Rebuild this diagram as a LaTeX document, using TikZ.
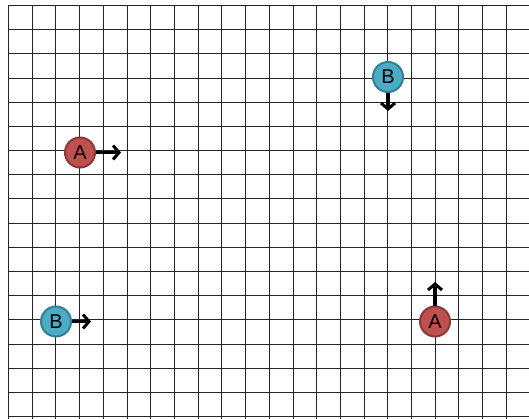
\documentclass[tikz,border=0pt]{standalone}
\usepackage{fontspec}
\setmainfont{Liberation Sans}
\usetikzlibrary{arrows.meta}
\definecolor{redfill}{RGB}{192,80,77}
\definecolor{reddraw}{RGB}{140,56,54}
\definecolor{bluefill}{RGB}{75,172,198}
\definecolor{bluedraw}{RGB}{49,128,150}
\tikzset{
  gridline/.style={draw=black!85, line width=1pt},
  agent/.style={circle, minimum size=30pt, inner sep=0pt, line width=2pt,
    font=\fontsize{20}{20}\selectfont, text=black},
  agentA/.style={agent, fill=redfill, draw=reddraw},
  agentB/.style={agent, fill=bluefill, draw=bluedraw},
  arr/.style={-{Straight Barb[length=6pt,width=14pt,line width=3pt]}, line width=3.4pt, black}
}
\begin{document}
\begin{tikzpicture}[x=1pt,y=-1pt]
\useasboundingbox (0,0) rectangle (529,419);
\fill[white] (0,0) rectangle (529,419);
\begin{scope}
\clip (0,0) rectangle (529,419);
\foreach \i in {0,...,22} {
  \pgfmathsetmacro{\xx}{round(8+23.71*\i)+0.5}
  \draw[gridline] (\xx,5.5) -- (\xx,419);
}
\foreach \j in {0,...,17} {
  \pgfmathsetmacro{\yy}{round(6+24.18*\j)-0.5}
  \draw[gridline] (8,\yy) -- (529,\yy);
}
\end{scope}
\node[agentA] (a1) at (80,152.5) {A};
\node[agentB] (b1) at (388,77) {B};
\node[agentB] (b2) at (56,321.5) {B};
\node[agentA] (a2) at (435,321.5) {A};
\coordinate (a1t) at (121,152.5);
\coordinate (b1t) at (388,111);
\coordinate (b2t) at (91,321.5);
\coordinate (a2t) at (435,282);
\draw[arr] (a1) -- (a1t);
\draw[arr] (b1) -- (b1t);
\draw[arr] (b2) -- (b2t);
\draw[arr] (a2) -- (a2t);
\end{tikzpicture}
\end{document}
